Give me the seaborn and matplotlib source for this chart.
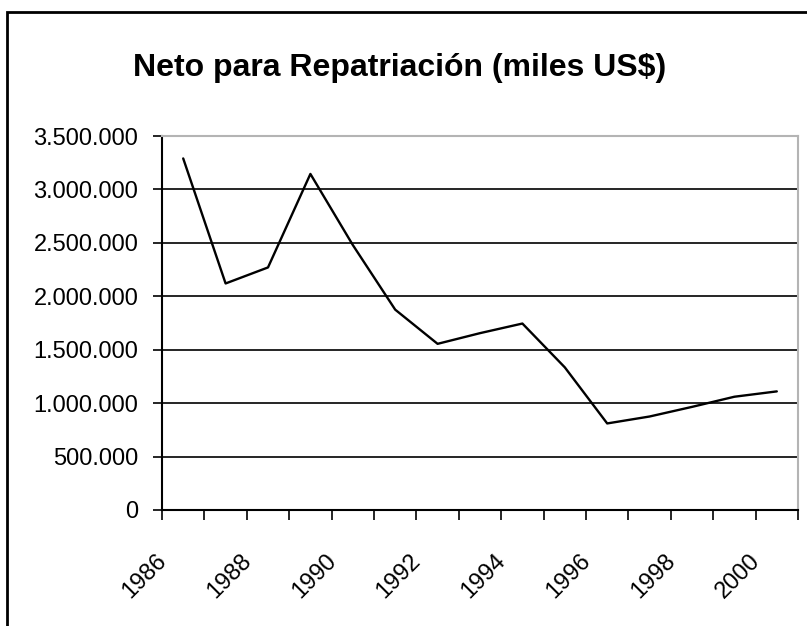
import matplotlib
matplotlib.use("Agg")
import matplotlib.pyplot as plt
import matplotlib.patches as mpatches
from matplotlib.ticker import FuncFormatter, MultipleLocator
from matplotlib.transforms import ScaledTranslation
import pandas as pd
import seaborn as sns

# ---- Data (miles US$) ----
YEARS = list(range(1986, 2001))
NETO = [3290000, 2120000, 2270000, 3145000, 2480000, 1875000, 1555000,
        1655000, 1745000, 1335000, 810000, 875000, 965000, 1060000, 1110000]
LABEL_YEARS = YEARS[::2]
TITLE = "Neto para Repatriación (miles US$)"

sns.set_theme(style="white")
plt.rcParams["font.family"] = ["Liberation Sans", "DejaVu Sans"]

df = pd.DataFrame({"Año": YEARS, "Neto": NETO})

fig = plt.figure(figsize=(8.07, 6.26), dpi=100)
ax = fig.add_axes([162 / 807, 1 - 510 / 626, (798 - 162) / 807, (510 - 136) / 626])

sns.lineplot(data=df, x="Año", y="Neto", ax=ax, color="black", linewidth=1.7)

# y axis
ax.set_ylim(0, 3500000)
ax.yaxis.set_major_locator(MultipleLocator(500000))
ax.yaxis.set_major_formatter(FuncFormatter(lambda v, p: f"{int(v):,}".replace(",", ".")))
ax.yaxis.grid(True, color="black", linewidth=1.2)
ax.set_axisbelow(True)
ax.tick_params(axis="y", left=True, direction="out", length=6.5, width=1.2,
               pad=10.5, labelsize=17, colors="black")

# x axis: categories with ticks between them
ax.set_xlim(YEARS[0] - 0.5, YEARS[-1] + 0.5)
ax.set_xticks([y - 0.5 for y in YEARS] + [YEARS[-1] + 0.5])
ax.set_xticklabels([])
ax.tick_params(axis="x", bottom=True, direction="out", length=7.2, width=1.2,
               colors="black")
offset = ScaledTranslation(-20 / 100, -48 / 100, fig.dpi_scale_trans)
for yr in LABEL_YEARS:
    ax.text(yr, 0, str(yr), transform=ax.get_xaxis_transform() + offset,
            rotation=45, ha="right", va="center", rotation_mode="anchor",
            fontsize=17, color="black")

ax.set_xlabel("")
ax.set_ylabel("")

for side in ["left", "bottom"]:
    ax.spines[side].set_color("black")
    ax.spines[side].set_linewidth(1.5)
for side in ["top", "right"]:
    ax.spines[side].set_visible(True)
    ax.spines[side].set_color("#b4b4b4")
    ax.spines[side].set_linewidth(1.5)

fig.text(400 / 807, 1 - 76 / 626, TITLE, ha="center", va="baseline",
         fontsize=23, fontweight="bold", color="black")

# outer chart frame (only top and left visible in the crop)
frame = mpatches.Rectangle((7 / 807, -0.1), 1.2, 1 - 12 / 626 + 0.1,
                           transform=fig.transFigure, fill=False,
                           edgecolor="black", linewidth=2)
fig.patches.append(frame)

fig.savefig("out.png", dpi=100)
plt.close(fig)
